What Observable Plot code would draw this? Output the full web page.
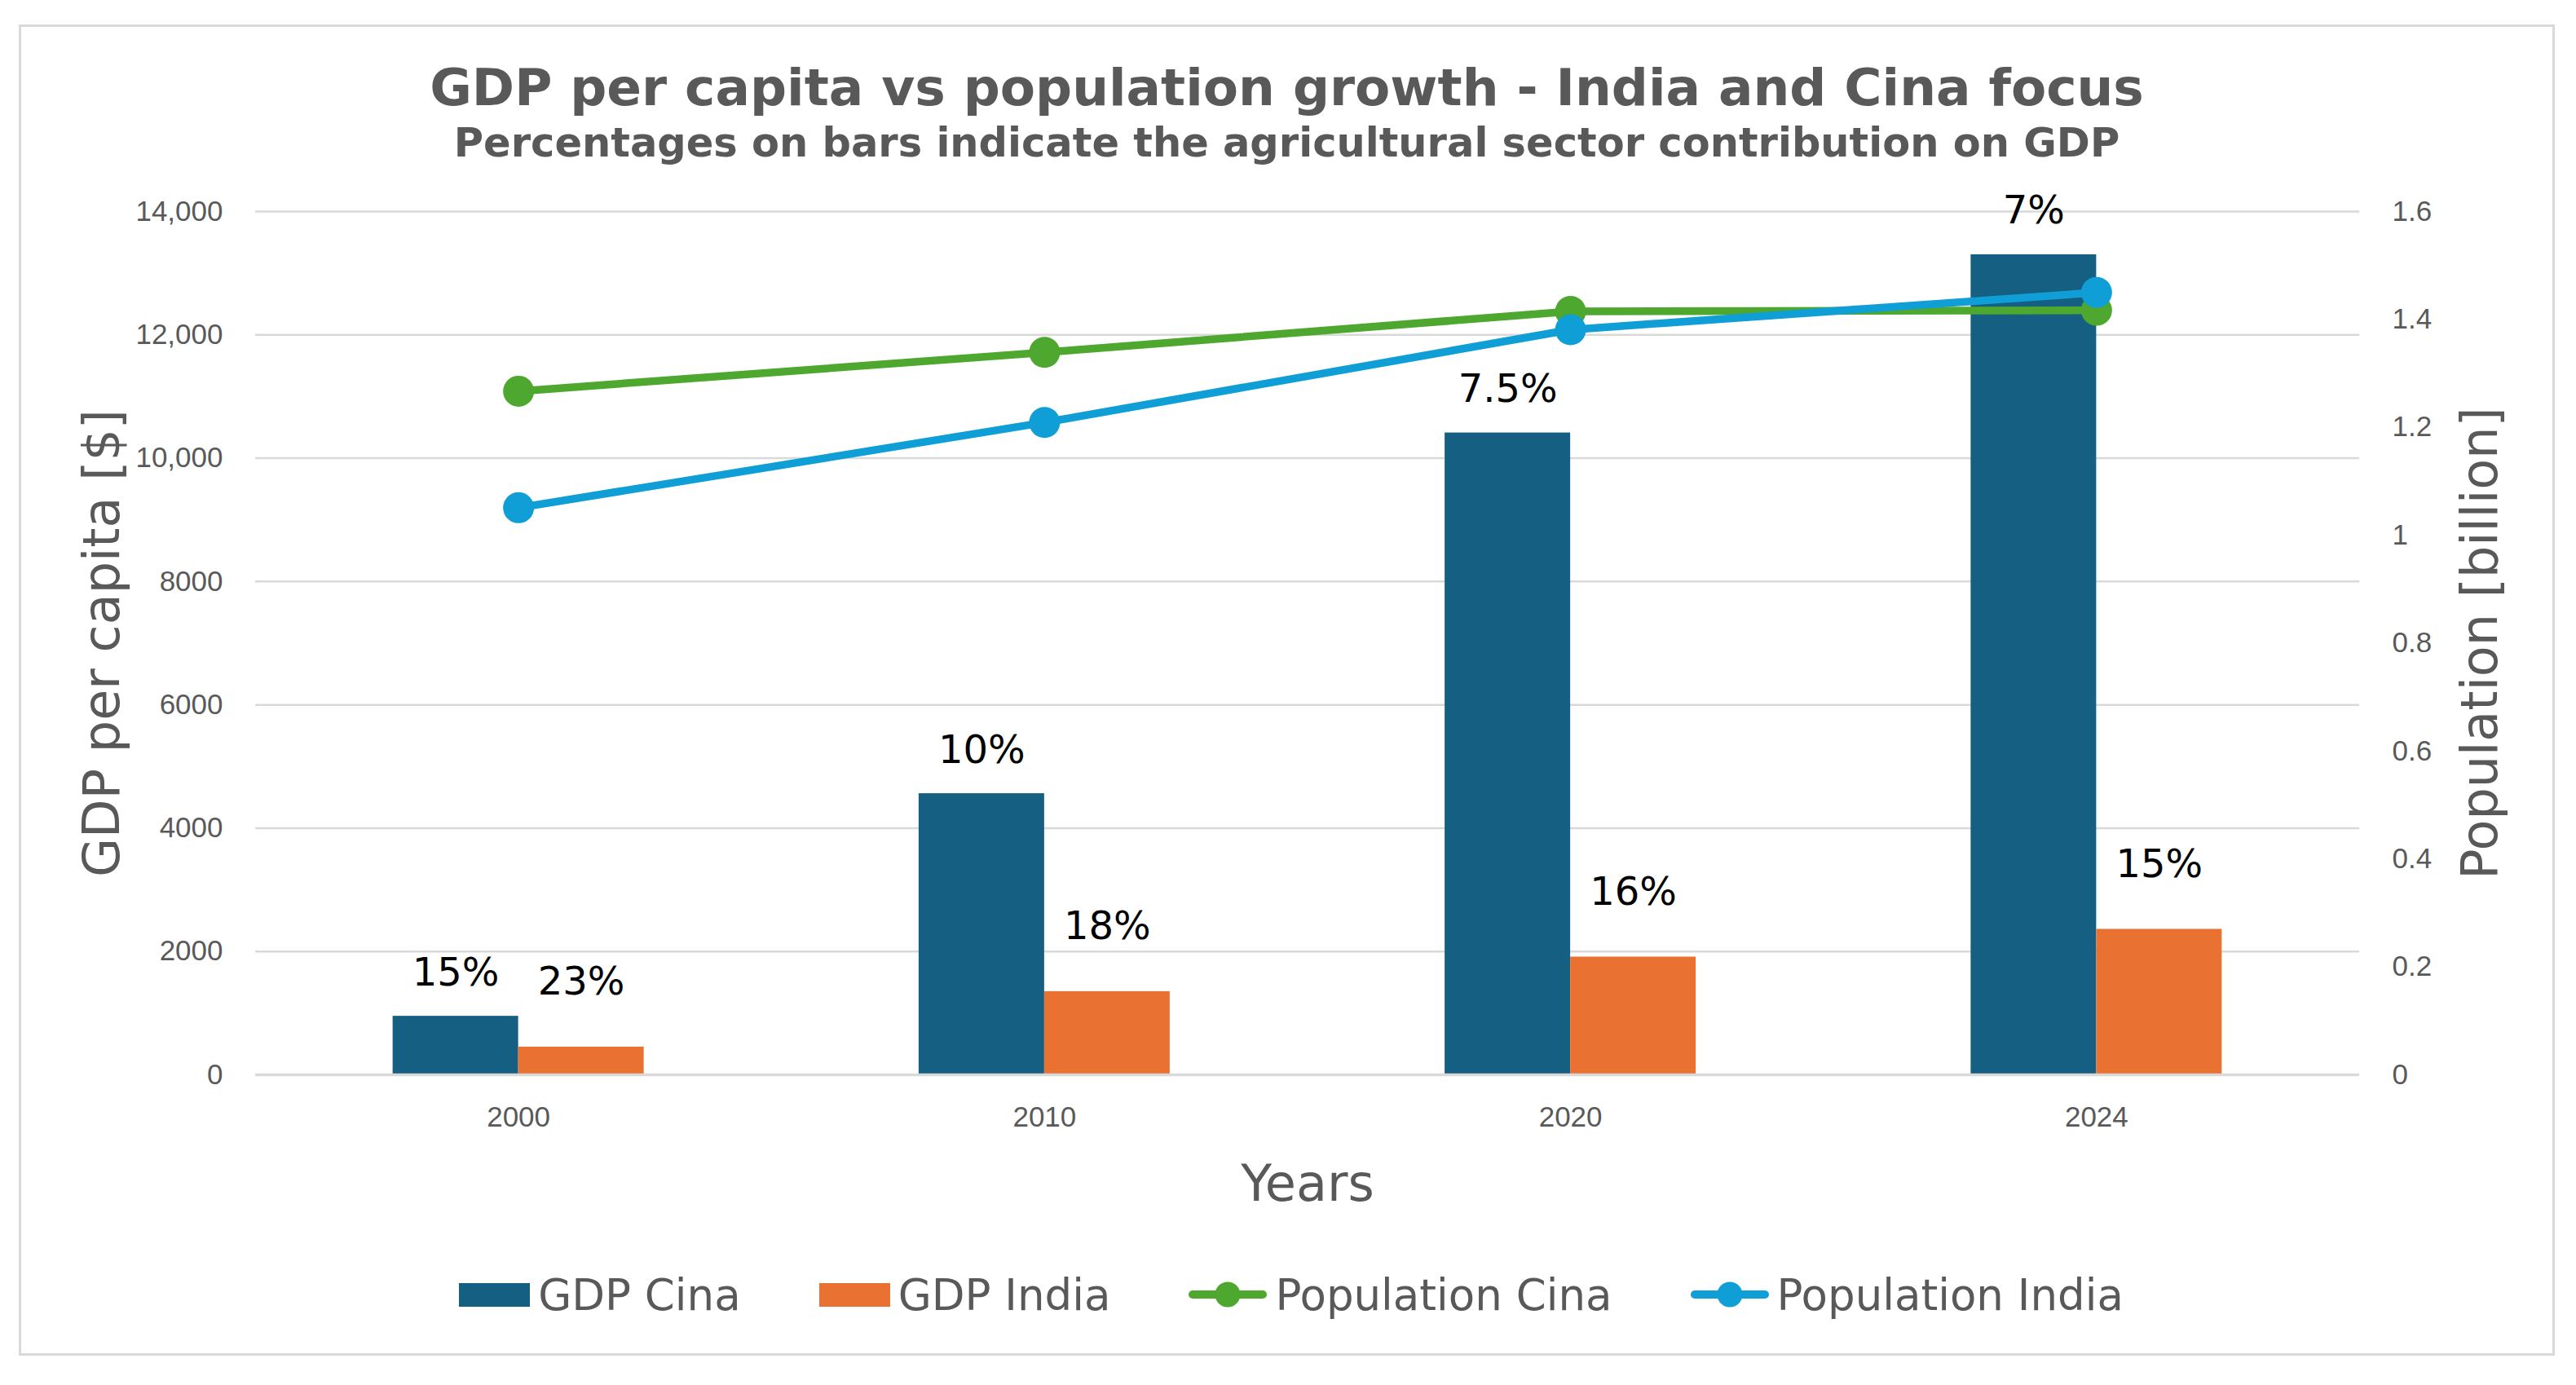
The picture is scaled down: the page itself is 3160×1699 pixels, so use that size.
<!DOCTYPE html>
<html>
<head>
<meta charset="utf-8">
<script src="https://cdn.jsdelivr.net/npm/d3@7"></script>
<script src="https://cdn.jsdelivr.net/npm/@observablehq/plot@0.6"></script>
<style>
  html, body { margin: 0; padding: 0; background: #ffffff; }
  #page { position: relative; width: 3160px; height: 1699px; overflow: hidden; background: #ffffff; }
  #frame { position: absolute; left: 23px; top: 30px; width: 3111px; height: 1633px; border: 3px solid #d9d9d9; box-sizing: border-box; }
  .ttl { position: absolute; left: 23px; width: 3111px; text-align: center; color: #595959; font-family: "DejaVu Sans", sans-serif; font-weight: bold; white-space: nowrap; }
  #title { top: 76px; font-size: 63px; line-height: 63px; }
  #subtitle { top: 151px; font-size: 49.5px; line-height: 49.5px; }
  #chart { position: absolute; left: 0; top: 220px; }
  #legend { position: absolute; left: 0; top: 1553px; width: 3168px; height: 70px; display: flex; justify-content: center; align-items: center; gap: 96px; font-family: "DejaVu Sans", sans-serif; font-size: 53px; color: #595959; }
  .item { display: flex; align-items: center; gap: 10px; }
  .sw { width: 87px; height: 29px; }
</style>
</head>
<body>
<div id="page">
  <div id="frame"></div>
  <div id="title" class="ttl">GDP per capita vs population growth - India and Cina focus</div>
  <div id="subtitle" class="ttl">Percentages on bars indicate the agricultural sector contribution on GDP</div>
  <div id="chart"></div>
  <div id="legend"></div>
</div>
<script>
// ---- data ----
const years = ["2000", "2010", "2020", "2024"];
const gdpCina = [950, 4560, 10410, 13300];
const gdpIndia = [450, 1350, 1910, 2360];
const popCina = [1.267, 1.339, 1.415, 1.417];
const popIndia = [1.051, 1.209, 1.381, 1.450];
const agriCina = ["15%", "10%", "7.5%", "7%"];
const agriIndia = ["23%", "18%", "16%", "15%"];
const gdpTicks = [0, 2000, 4000, 6000, 8000, 10000, 12000, 14000];
const gdpTickLabels = ["0", "2000", "4000", "6000", "8000", "10,000", "12,000", "14,000"];
const popTicks = [0, 0.2, 0.4, 0.6, 0.8, 1, 1.2, 1.4, 1.6];
const popTickLabels = ["0", "0.2", "0.4", "0.6", "0.8", "1", "1.2", "1.4", "1.6"];
const seriesNames = ["GDP Cina", "GDP India", "Population Cina", "Population India"];
const seriesColors = ["#156082", "#E97132", "#4EA72E", "#0F9ED5"];

const rows = years.map((year, i) => ({
  year,
  gdpCina: gdpCina[i],
  gdpIndia: gdpIndia[i],
  popCina: popCina[i],
  popIndia: popIndia[i],
  agriCina: agriCina[i],
  agriIndia: agriIndia[i]
}));

// ---- layout ----
const W = 3160, H = 1290;
const mL = 313, mR = 266, mT = 39, mB = 192;
const gdpMax = 14000, popMax = 1.6;
const k = gdpMax / popMax; // secondary axis mapping
const band = (W - mL - mR) / years.length;
const barW = 154;
const half = band / 2;

const tickFont = "Liberation Sans, Arial, sans-serif";
const mainFont = "DejaVu Sans, Verdana, sans-serif";
const grey = "#595959";

const chart = Plot.plot({
  width: W,
  height: H,
  marginLeft: mL,
  marginRight: mR,
  marginTop: mT,
  marginBottom: mB,
  style: { background: "transparent", overflow: "visible" },
  x: { type: "band", domain: years, padding: 0, round: false },
  y: { domain: [0, gdpMax] },
  marks: [
    Plot.ruleY(gdpTicks.slice(1), { stroke: "#d9d9d9", strokeWidth: 2.5 }),
    Plot.barY(rows, { x: "year", y: "gdpCina", fill: seriesColors[0], insetLeft: half - barW, insetRight: half }),
    Plot.barY(rows, { x: "year", y: "gdpIndia", fill: seriesColors[1], insetLeft: half, insetRight: half - barW }),
    Plot.ruleY([0], { stroke: "#d9d9d9", strokeWidth: 3.5 }),
    Plot.text(rows, { x: "year", y: "gdpCina", text: "agriCina", dx: -barW / 2, dy: -38, lineAnchor: "bottom", fontSize: 48, fontFamily: mainFont, fill: "#000000" }),
    Plot.text(rows, { x: "year", y: "gdpIndia", text: "agriIndia", dx: barW / 2, dy: -64, lineAnchor: "bottom", fontSize: 48, fontFamily: mainFont, fill: "#000000" }),
    Plot.line(rows, { x: "year", y: d => d.popCina * k, stroke: seriesColors[2], strokeWidth: 9.5, strokeLinejoin: "round", strokeLinecap: "round" }),
    Plot.dot(rows, { x: "year", y: d => d.popCina * k, r: 19, fill: seriesColors[2], stroke: "none" }),
    Plot.line(rows, { x: "year", y: d => d.popIndia * k, stroke: seriesColors[3], strokeWidth: 9.5, strokeLinejoin: "round", strokeLinecap: "round" }),
    Plot.dot(rows, { x: "year", y: d => d.popIndia * k, r: 19, fill: seriesColors[3], stroke: "none" }),
    Plot.axisY({ anchor: "left", ticks: gdpTicks, tickFormat: (d, i) => gdpTickLabels[gdpTicks.indexOf(d)], tickSize: 0, tickPadding: 40, fontSize: 35, fontFamily: tickFont, fill: grey, label: null }),
    Plot.axisY({ anchor: "right", ticks: popTicks.map(p => p * k), tickFormat: (d, i) => popTickLabels[i], tickSize: 0, tickPadding: 40, fontSize: 35, fontFamily: tickFont, fill: grey, label: null }),
    Plot.axisX({ anchor: "bottom", tickSize: 0, tickPadding: 39, fontSize: 35, fontFamily: tickFont, fill: grey, label: null }),
    Plot.text([0], { frameAnchor: "left", text: () => "GDP per capita [$]", rotate: -90, dx: -168, lineAnchor: "bottom", textAnchor: "middle", fontSize: 62, fontFamily: mainFont, fill: grey }),
    Plot.text([0], { frameAnchor: "right", text: () => "Population [billion]", rotate: -90, dx: 168, lineAnchor: "bottom", textAnchor: "middle", fontSize: 62, fontFamily: mainFont, fill: grey }),
    Plot.text([0], { frameAnchor: "bottom", text: () => "Years", dy: 154, lineAnchor: "bottom", textAnchor: "middle", fontSize: 62, fontFamily: mainFont, fill: grey })
  ]
});
document.getElementById("chart").appendChild(chart);

// ---- legend ----
const legend = document.getElementById("legend");
seriesNames.forEach((name, i) => {
  const item = document.createElement("div");
  item.className = "item";
  if (i < 2) {
    const sw = document.createElement("div");
    sw.className = "sw";
    sw.style.background = seriesColors[i];
    item.appendChild(sw);
  } else {
    const ns = "http://www.w3.org/2000/svg";
    const svg = document.createElementNS(ns, "svg");
    svg.setAttribute("width", "96");
    svg.setAttribute("height", "40");
    const ln = document.createElementNS(ns, "line");
    ln.setAttribute("x1", "5"); ln.setAttribute("x2", "91");
    ln.setAttribute("y1", "20"); ln.setAttribute("y2", "20");
    ln.setAttribute("stroke", seriesColors[i]);
    ln.setAttribute("stroke-width", "10");
    ln.setAttribute("stroke-linecap", "round");
    const c = document.createElementNS(ns, "circle");
    c.setAttribute("cx", "48"); c.setAttribute("cy", "20"); c.setAttribute("r", "15.5");
    c.setAttribute("fill", seriesColors[i]);
    svg.appendChild(ln); svg.appendChild(c);
    item.appendChild(svg);
  }
  const t = document.createElement("span");
  t.textContent = name;
  item.appendChild(t);
  legend.appendChild(item);
});
</script>
</body>
</html>
